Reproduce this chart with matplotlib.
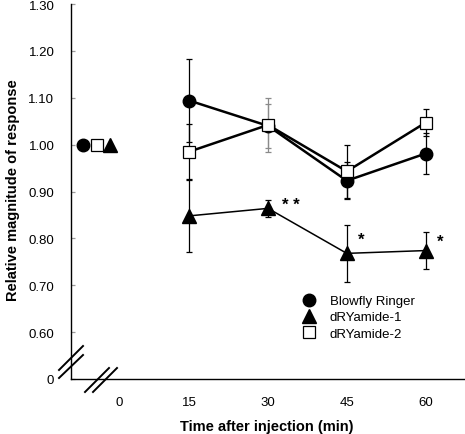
import numpy as np
import matplotlib
matplotlib.use("Agg")
import matplotlib.pyplot as plt
from matplotlib.lines import Line2D

plt.rcParams["font.family"] = ["Liberation Sans", "DejaVu Sans"]

# ---- datos ----
tiempos = [15, 30, 45, 60]
ringer = [1.094, 1.040, 0.923, 0.981]
ringer_err = [0.088, 0.047, 0.040, 0.043]
dry1 = [0.848, 0.864, 0.768, 0.774]
dry1_err = [0.077, 0.018, 0.061, 0.039]
dry2 = [0.985, 1.042, 0.943, 1.047]
dry2_err = [0.058, 0.058, 0.057, 0.028]

# puntos control (antes de la inyección)
control_x = [-5.2, 0.0, -2.5]       # Ringer, dRYamide-1, dRYamide-2
control_y = [1.00, 1.00, 1.00]

# asteriscos de significación para dRYamide-1
estrellas = ["", "* *", "*", "*"]

xticks = [1.7, 15, 30, 45, 60]
xticklabels = ["0", "15", "30", "45", "60"]
yticks = [0.50, 0.60, 0.70, 0.80, 0.90, 1.00, 1.10, 1.20, 1.30]
yticklabels = ["0", "0.60", "0.70", "0.80", "0.90", "1.00", "1.10", "1.20", "1.30"]

W, H = 465, 435
fig = plt.figure(figsize=(W / 100, H / 100), dpi=100)
ax = fig.add_axes([71 / W, 1 - 380 / H, (464 - 71) / W, (380 - 5) / H])

# color de las barras de error (gris en t = 30)
ecol = ["black" if t != 30 else "#8a8a8a" for t in tiempos]

def barras(y, err, cols):
    for t, v, e, c in zip(tiempos, y, err, cols):
        ax.errorbar([t], [v], yerr=[e], fmt="none", ecolor=c, elinewidth=0.9,
                    capsize=2.2, capthick=0.9, zorder=2)

barras(ringer, ringer_err, ecol)
barras(dry2, dry2_err, ecol)
barras(dry1, dry1_err, ["black"] * 4)

ax.plot(tiempos, ringer, "-", color="black", lw=1.8, zorder=3)
ax.plot(tiempos, dry2, "-", color="black", lw=1.8, zorder=3)
ax.plot(tiempos, dry1, "-", color="black", lw=1.1, zorder=3)

ax.plot(tiempos, ringer, "o", ms=9, color="black", zorder=4)
ax.plot(tiempos, dry1, "^", ms=9.5, color="black", zorder=4)
ax.plot(tiempos, dry2, "s", ms=8.5, mfc="white", mec="black", mew=0.9, zorder=5)

# controles
ax.plot(control_x[0], control_y[0], "o", ms=9, color="black", zorder=4,
        label="Blowfly Ringer")
ax.plot(control_x[1], control_y[1], "^", ms=9.5, color="black", zorder=4,
        label="dRYamide-1")
ax.plot(control_x[2], control_y[2], "s", ms=8.5, mfc="white", mec="black",
        mew=0.9, zorder=5, label="dRYamide-2")

# asteriscos
offs = [(0, 0), (23, 4), (14, 14), (15, 9)]
for t, v, s, o in zip(tiempos, dry1, estrellas, offs):
    if s:
        ax.annotate(s, (t, v), xytext=o, textcoords="offset pixels",
                    ha="center", va="center", fontsize=12, fontweight="bold")

ax.set_xlim(-7.5, 67.3)
ax.set_ylim(0.50, 1.30)
ax.set_xticks(xticks)
ax.set_xticklabels(xticklabels)
ax.set_yticks(yticks)
ax.set_yticklabels(yticklabels)
ax.tick_params(axis="x", length=0, pad=12, labelsize=9.5)
ax.tick_params(axis="y", direction="in", length=3, width=0.9, color="#9a9a9a",
               pad=12, labelsize=9.5)
for lado in ["top", "right"]:
    ax.spines[lado].set_visible(False)
for lado in ["left", "bottom"]:
    ax.spines[lado].set_linewidth(1.0)

ax.set_xlabel("Time after injection (min)", fontsize=10.5, fontweight="bold")
ax.xaxis.set_label_coords(0.499, -0.108)
ax.set_ylabel("Relative magnitude of response", fontsize=10.5, fontweight="bold")
ax.yaxis.set_label_coords(-0.13, 0.507)

ax.legend(loc="upper left", bbox_to_anchor=(302 / W, 1 - 296 / H),
          bbox_transform=fig.transFigure, frameon=False, fontsize=9.5,
          handlelength=1.0, handletextpad=1.1, borderpad=0, labelspacing=0.3,
          borderaxespad=0)

# marcas de corte de los ejes (en píxeles de la figura)
def corte(x0, y0, x1, y1):
    fig.add_artist(Line2D([x0 / W, x1 / W], [1 - y0 / H, 1 - y1 / H],
                          color="black", lw=1.4, transform=fig.transFigure))

corte(59, 371, 83, 347)
corte(59, 379, 83, 356)
corte(85, 393, 109, 369)
corte(93, 393, 117, 369)

fig.savefig("out.png", dpi=100)
